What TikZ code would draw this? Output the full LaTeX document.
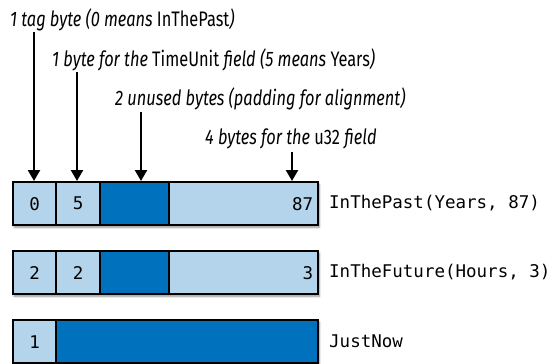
\documentclass[tikz,border=0pt]{standalone}
\usepackage{fontspec}
\setmainfont{Fira Sans}
\newfontfamily\annfont{Fira Sans}[FakeStretch=0.78]
\setmonofont{DejaVu Sans Mono}
\usetikzlibrary{shadows.blur,arrows.meta}
\definecolor{lightb}{HTML}{B3D4EA}
\definecolor{darkb}{HTML}{0071BC}
\begin{document}
\begin{tikzpicture}[x=1pt,y=1pt,
  cell/.style={draw=black, line width=2.3pt, minimum height=43pt, inner sep=0pt,
    anchor=north west, font=\fontsize{17.5}{17.5}\ttfamily},
  lcell/.style={cell, fill=lightb},
  dcell/.style={cell, fill=darkb},
  rowbox/.style={fill=white, minimum height=43pt, minimum width=305pt, anchor=north west,
    inner sep=0pt, blur shadow={shadow xshift=2pt, shadow yshift=-3pt, shadow blur steps=6, shadow opacity=45}},
  ann/.style={anchor=base west, inner sep=0pt, font=\annfont\fontsize{21}{21}\selectfont},
  lbl/.style={anchor=west, inner sep=0pt, font=\fontsize{17.5}{17.5}\ttfamily},
  arr/.style={line width=2.3pt, -{Triangle[width=12pt,length=11pt]}}
]
\useasboundingbox (0,0) rectangle (552,-364);

% annotations
\node[ann] (t1) at (10,-27) {\itshape 1 tag byte (0 means \upshape InThePast\itshape)};
\node[ann] (t2) at (52,-66) {\itshape 1 byte for the \upshape TimeUnit \itshape field (5 means \upshape Years\itshape)};
\node[ann] (t3) at (115,-105) {\itshape 2 unused bytes (padding for alignment)};
\node[ann] (t4) at (205,-144) {\itshape 4 bytes for the \upshape u32 \itshape field};

% row 1
\node[rowbox] (r1) at (12,-181) {};
\node[lcell, minimum width=43pt] (a1) at (12,-181) {0};
\node[lcell, minimum width=44pt] (a2) at (55,-181) {5};
\node[dcell, minimum width=69pt] (a3) at (99,-181) {};
\node[lcell, minimum width=149pt, text width=139pt, align=right] (a4) at (168,-181) {87};
\node[lbl] (l1) at (329,-203) {InThePast(Years, 87)};

% row 2
\node[rowbox] (r2) at (12,-250) {};
\node[lcell, minimum width=43pt] (b1) at (12,-250) {2};
\node[lcell, minimum width=44pt] (b2) at (55,-250) {2};
\node[dcell, minimum width=69pt] (b3) at (99,-250) {};
\node[lcell, minimum width=149pt, text width=139pt, align=right] (b4) at (168,-250) {3};
\node[lbl] (l2) at (329,-272) {InTheFuture(Hours, 3)};

% row 3
\node[rowbox] (r3) at (12,-319) {};
\node[lcell, minimum width=43pt] (c1) at (12,-319) {1};
\node[dcell, minimum width=262pt] (c2) at (55,-319) {};
\node[lbl] (l3) at (329,-341) {JustNow};

% arrows
\coordinate (p1) at (34,-181);
\coordinate (p2) at (77,-181);
\coordinate (p3) at (141,-181);
\coordinate (p4) at (292,-181);
\draw[arr] (p1 |- 0,-32) -- (p1);
\draw[arr] (p2 |- 0,-72) -- (p2);
\draw[arr] (p3 |- 0,-112) -- (p3);
\draw[arr] (p4 |- 0,-152) -- (p4);
\end{tikzpicture}
\end{document}
